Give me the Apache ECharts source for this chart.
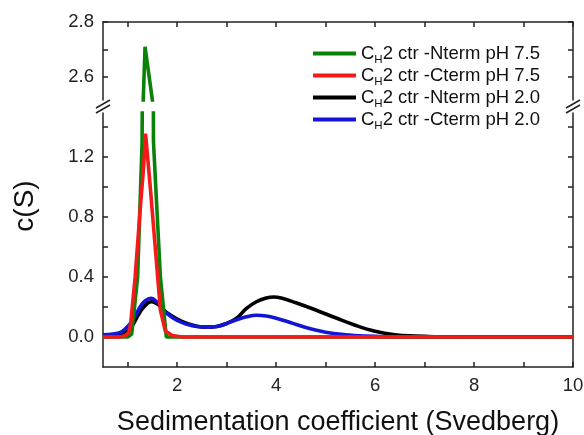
<!DOCTYPE html>
<html>
<head>
<meta charset="utf-8">
<script src="https://cdn.jsdelivr.net/npm/echarts@6/dist/echarts.min.js"></script>
<style>
  html, body { margin: 0; padding: 0; background: #fff; }
  #chart { width: 584px; height: 435px; }
</style>
</head>
<body>
<div id="chart"></div>
<script>
// sedimentation coefficient (S) and c(S) for each run
const greenS = [0.5, 1.0, 1.08, 1.2, 1.29, 1.31, 1.35, 1.51, 1.52, 1.66, 1.78, 10];
const greenC = [0, 0, 0.02, 0.4, 1.3, 2.5, 2.71, 2.5, 1.3, 0.4, 0, 0];

const redS = [0.5, 0.85, 0.95, 1.02, 1.06, 1.15, 1.24, 1.32, 1.36, 1.45, 1.56, 1.66, 1.76, 1.9, 2.1, 10];
const redC = [0, 0, 0.01, 0.03, 0.09, 0.4, 0.8, 1.13, 1.355, 1.02, 0.58, 0.18, 0.04, 0.01, 0, 0];

const blackS = [0.5, 0.7, 0.9, 1.0, 1.1, 1.2, 1.3, 1.4, 1.48, 1.6, 1.7, 1.8, 2.0, 2.2, 2.4, 2.6, 2.8, 3.0, 3.2, 3.4, 3.6, 3.8, 3.95, 4.1, 4.4, 4.8, 5.2, 5.6, 6.0, 6.4, 6.8, 7.2, 8, 10];
const blackC = [0, 0.005, 0.02, 0.04, 0.08, 0.14, 0.19, 0.225, 0.235, 0.22, 0.19, 0.16, 0.12, 0.09, 0.072, 0.066, 0.07, 0.09, 0.125, 0.19, 0.235, 0.26, 0.267, 0.26, 0.228, 0.18, 0.128, 0.078, 0.038, 0.015, 0.006, 0.002, 0, 0];

const blueS = [0.5, 0.7, 0.85, 0.95, 1.05, 1.15, 1.25, 1.35, 1.47, 1.6, 1.7, 1.8, 2.0, 2.2, 2.4, 2.6, 2.8, 3.0, 3.2, 3.4, 3.6, 3.8, 4.0, 4.3, 4.6, 5.0, 5.4, 5.8, 6.2, 7, 10];
const blueC = [0.015, 0.02, 0.03, 0.055, 0.09, 0.14, 0.2, 0.24, 0.258, 0.23, 0.19, 0.155, 0.11, 0.085, 0.07, 0.066, 0.07, 0.09, 0.115, 0.135, 0.145, 0.14, 0.125, 0.095, 0.063, 0.032, 0.015, 0.006, 0.002, 0, 0];

const names = ["Nterm pH 7.5", "Cterm pH 7.5", "Nterm pH 2.0", "Cterm pH 2.0"];
const colors = ["#0a820a", "#f41a1a", "#000000", "#1414d6"];

// axis ticks and labels
const xTicks = [1, 2, 3, 4, 5, 6, 7, 8, 9, 10];
const xLabels = [2, 4, 6, 8, 10];
const lowTicks = [0, 0.2, 0.4, 0.6, 0.8, 1.0, 1.2, 1.4];
const lowLabels = [0, 0.4, 0.8, 1.2];
const highTicks = [2.6, 2.7, 2.8];
const highLabels = [2.6, 2.8];

const font = "Liberation Sans, Arial, sans-serif";
const axisColor = "#222";

const pairs = (s, c) => s.map((v, i) => [v, c[i]]);

function axis(grid, pos, min, max, ticks, labels, fmt) {
  return {
    type: "value", gridIndex: grid, position: pos, min: min, max: max,
    axisLine: { show: true, onZero: false, lineStyle: { color: axisColor, width: 1.5 } },
    axisTick: { show: true, inside: true, length: 5, customValues: ticks, lineStyle: { color: axisColor, width: 1.5 } },
    axisLabel: labels
      ? { show: true, customValues: labels, margin: 9, color: "#222", fontSize: 18.5, fontFamily: font, formatter: fmt }
      : { show: false },
    splitLine: { show: false },
  };
}

const lower = { min: -0.2, max: 1.493 };
const upper = { min: 2.516, max: 2.8 };
const f1 = (v) => v.toFixed(1);
const f0 = (v) => String(v);

const xAxes = [
  axis(0, "top", 0.5, 10, xTicks, null),
  axis(1, "bottom", 0.5, 10, xTicks, xLabels, f0),
];
Object.assign(xAxes[1], {
  name: "Sedimentation coefficient (Svedberg)",
  nameLocation: "middle",
  nameGap: 42,
  nameTextStyle: { fontSize: 27, color: "#111", fontFamily: font },
});

const yAxes = [
  axis(0, "left", upper.min, upper.max, highTicks, highLabels, f1),
  axis(0, "right", upper.min, upper.max, highTicks, null),
  axis(1, "left", lower.min, lower.max, lowTicks, lowLabels, f1),
  axis(1, "right", lower.min, lower.max, lowTicks, null),
];

function line(name, color, data, xi, yi, smooth, z) {
  return {
    name: name, type: "line", data: data, xAxisIndex: xi, yAxisIndex: yi,
    showSymbol: false, smooth: smooth, z: z,
    lineStyle: { color: color, width: 3.6 }, itemStyle: { color: color },
  };
}

const series = [
  line(names[2], colors[2], pairs(blackS, blackC), 1, 2, 0.4, 2),
  line(names[3], colors[3], pairs(blueS, blueC), 1, 2, 0.4, 3),
  line(names[0], colors[0], pairs(greenS, greenC), 1, 2, false, 4),
  line(names[1], colors[1], pairs(redS, redC), 1, 2, false, 5),
  line(names[0], colors[0], pairs(greenS, greenC), 0, 0, false, 4),
];

// "//" marks where the y axis is broken
function breakMark(x) {
  const st = { stroke: axisColor, lineWidth: 1.5 };
  return [
    { type: "line", shape: { x1: x - 7, y1: 108, x2: x + 7, y2: 100 }, style: st },
    { type: "line", shape: { x1: x - 7, y1: 113, x2: x + 7, y2: 105 }, style: st },
  ];
}

const option = {
  backgroundColor: "#fff",
  animation: false,
  grid: [
    { left: 103, right: 11, top: 22, height: 78, containLabel: false, outerBoundsMode: "none" },
    { left: 103, right: 11, top: 113, bottom: 68, containLabel: false, outerBoundsMode: "none" },
  ],
  xAxis: xAxes,
  yAxis: yAxes,
  legend: {
    data: names,
    orient: "vertical",
    left: 308,
    top: 39,
    icon: "rect",
    itemWidth: 43,
    itemHeight: 4,
    itemGap: 0,
    formatter: (n) => "{n|C}{s|H}{n|2 ctr -" + n + "}",
    textStyle: {
      rich: {
        n: { fontSize: 18.5, lineHeight: 21, color: "#111", fontFamily: font, verticalAlign: "middle" },
        s: { fontSize: 11.5, lineHeight: 25, color: "#111", fontFamily: font, verticalAlign: "bottom" },
      },
    },
  },
  graphic: [
    ...breakMark(103),
    ...breakMark(573),
    {
      type: "text", x: 25, y: 206, rotation: Math.PI / 2,
      style: { text: "c(S)", fontSize: 28, fill: "#111", fontFamily: font, align: "center", verticalAlign: "middle" },
    },
  ],
  series: series,
};

const myChart = echarts.init(document.getElementById("chart"));
myChart.setOption(option);
</script>
</body>
</html>
